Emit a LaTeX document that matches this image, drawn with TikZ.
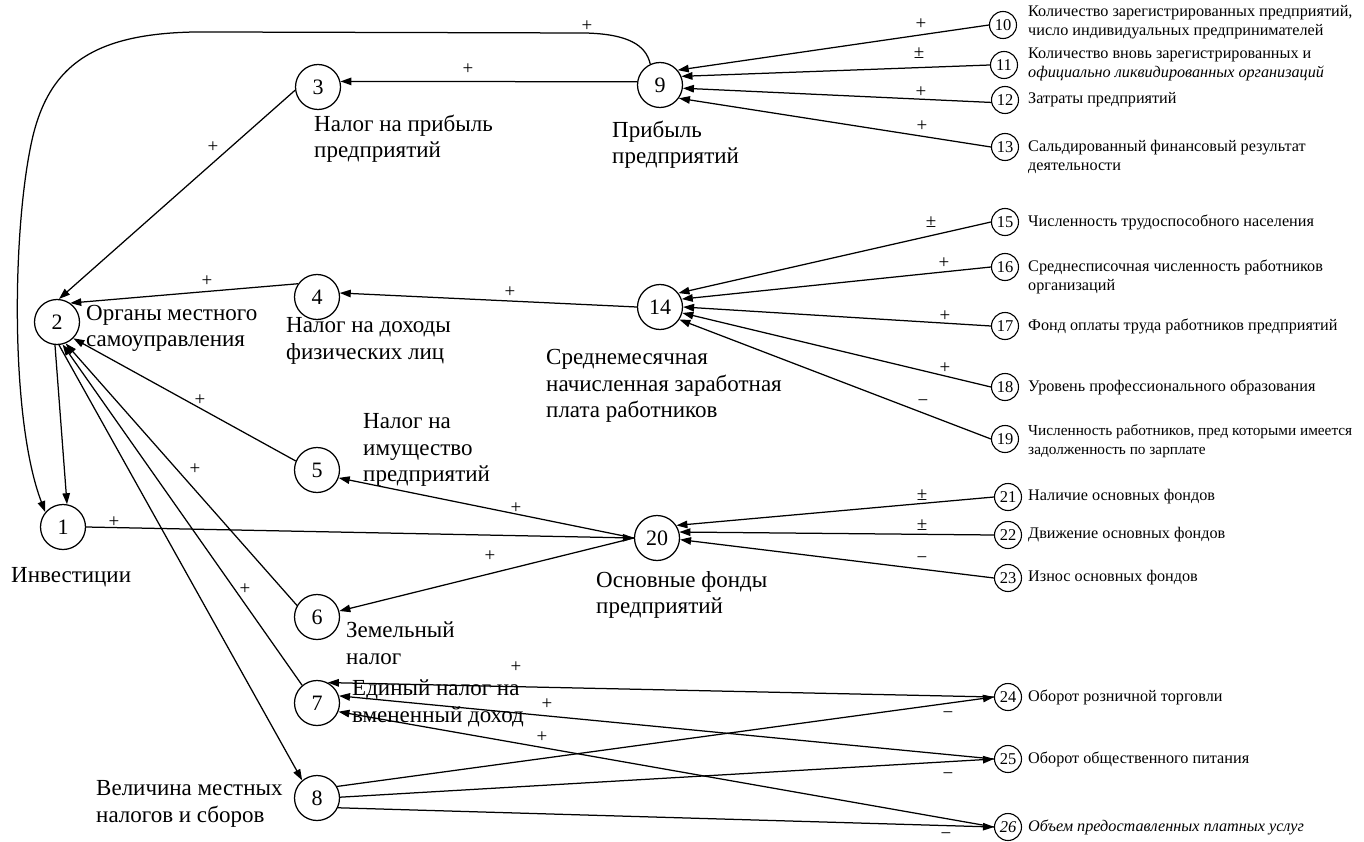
\documentclass[tikz,border=0pt]{standalone}
\usepackage{fontspec}
\setmainfont{Liberation Serif}
\usetikzlibrary{arrows.meta}
\begin{document}
\begin{tikzpicture}[x=1pt,y=-1pt,
  big/.style={circle,draw,line width=1.25pt,minimum size=45pt,inner sep=0pt,font=\fontsize{22}{22}\selectfont},
  sml/.style={circle,draw,line width=1.1pt,minimum size=27pt,inner sep=0pt,font=\fontsize{16.5}{16.5}\selectfont},
  lbl/.style={anchor=west,align=left,inner sep=0pt,font=\fontsize{23}{26.5}\selectfont},
  rlbl/.style={anchor=west,align=left,inner sep=0pt,font=\fontsize{16.2}{19}\selectfont},
  sgn/.style={inner sep=0pt,font=\fontsize{19}{19}\selectfont},
  arr/.style={line width=1.25pt,-{Triangle[length=11pt,width=7.5pt]}}]
\useasboundingbox (0,0) rectangle (1364,842);
% big nodes
\node[big] (n1) at (63,527) {1};
\node[big] (n2) at (57,322) {2};
\node[big] (n3) at (318,87) {3};
\node[big] (n4) at (317,297) {4};
\node[big] (n5) at (317,470) {5};
\node[big] (n6) at (317,617) {6};
\node[big] (n7) at (317,703) {7};
\node[big] (n8) at (317,798) {8};
\node[big] (n9) at (660,85) {9};
\node[big] (n14) at (660,307) {14};
\node[big] (n20) at (657,538) {20};
% small nodes
\node[sml] (n10) at (1003,25) {10};
\node[sml] (n11) at (1004,65) {11};
\node[sml] (n12) at (1005,100) {12};
\node[sml] (n13) at (1005,147) {13};
\node[sml] (n15) at (1005,222) {15};
\node[sml] (n16) at (1005,267) {16};
\node[sml] (n17) at (1005,326) {17};
\node[sml] (n18) at (1005,387) {18};
\node[sml] (n19) at (1005,439) {19};
\node[sml] (n21) at (1008,497) {21};
\node[sml] (n22) at (1008,535) {22};
\node[sml] (n23) at (1008,578) {23};
\node[sml] (n24) at (1008,697) {24};
\node[sml] (n25) at (1008,759) {25};
\node[sml] (n26) at (1008,827) {\itshape 26};
% big labels
\node[lbl] (l1) at (11,577) {Инвестиции};
\node[lbl] (l2) at (86,328.5) {Органы местного\\самоуправления};
\node[lbl] (l3) at (314,138.5) {Налог на прибыль\\предприятий};
\node[lbl] (l4) at (286,341) {Налог на доходы\\физических лиц};
\node[lbl] (l5) at (363,450) {Налог на\\имущество\\предприятий};
\node[lbl] (l6) at (346,643) {Земельный\\налог};
\node[lbl] (l7) at (352,703.5) {Единый налог на\\вмененный доход};
\node[lbl] (l8) at (96,804) {Величина местных\\налогов и сборов};
\node[lbl] (l9) at (612,144.5) {Прибыль\\предприятий};
\node[lbl] (l14) at (546,386) {Среднемесячная\\начисленная заработная\\плата работников};
\node[lbl] (l20) at (596,595) {Основные фонды\\предприятий};
% right labels
\node[rlbl] (t10) at (1028,22.5) {Количество зарегистрированных предприятий,\\число индивидуальных предпринимателей};
\node[rlbl] (t11) at (1028,64.5) {Количество вновь зарегистрированных и\\\itshape официально ликвидированных организаций};
\node[rlbl] (t12) at (1028,100) {Затраты предприятий};
\node[rlbl] (t13) at (1028,156.5) {Сальдированный финансовый результат\\деятельности};
\node[rlbl] (t15) at (1028,222) {Численность трудоспособного населения};
\node[rlbl] (t16) at (1028,277) {Среднесписочная численность работников\\организаций};
\node[rlbl] (t17) at (1028,326) {Фонд оплаты труда работников предприятий};
\node[rlbl] (t18) at (1028,387) {Уровень профессионального образования};
\node[rlbl,font=\fontsize{15.3}{19}\selectfont] (t19) at (1028,441) {Численность работников, пред которыми имеется\\задолженность по зарплате};
\node[rlbl] (t21) at (1028,497) {Наличие основных фондов};
\node[rlbl] (t22) at (1028,535) {Движение основных фондов};
\node[rlbl] (t23) at (1028,578) {Износ основных фондов};
\node[rlbl] (t24) at (1028,697) {Оборот розничной торговли};
\node[rlbl] (t25) at (1028,759) {Оборот общественного питания};
\node[rlbl] (t26) at (1028,827) {\itshape Объем предоставленных платных услуг};
% edges
\draw[arr] (n9.172) -- (n3.14);
\draw[arr] (n9.115) .. controls (646,45) and (628,34) .. (585,33) -- (215,32) .. controls (100,30) and (50,60) .. (32,140) .. controls (12,230) and (10,420) .. (n1.140);
\draw[arr] (n3.188) -- (n2.85);
\draw[arr] (n4.145) -- (n2.55);
\draw[arr] (n5.157) -- (n2.-45);
\draw[arr] (n6.150) -- (n2.-68);
\draw[arr] (n7.130) -- (n2.-76);
\draw[arr] (n2.-85) -- (n8.130);
\draw[arr] (n2.-95) -- (n1.80);
\draw[arr] (n14.west) -- (n4.10);
\draw[arr] (n1.east) -- (n20.west);
\draw[arr] (n20.west) -- (n5.-20);
\draw[arr] (n20.west) -- (n6.15);
\draw[arr] (n10.west) -- (n9.40);
\draw[arr] (n11.west) -- (n9.22);
\draw[arr] (n12.190) -- (n9.-8);
\draw[arr] (n13.west) -- (n9.-35);
\draw[arr] (n15.west) -- (n14.37);
\draw[arr] (n16.west) -- (n14.20);
\draw[arr] (n17.west) -- (n14.0);
\draw[arr] (n18.west) -- (n14.-15);
\draw[arr] (n19.west) -- (n14.-33);
\draw[arr] (n21.west) -- (n20.33);
\draw[arr] (n22.west) -- (n20.15);
\draw[arr] (n23.west) -- (n20.-4);
\draw[arr] (n24.west) -- (n7.62);
\draw[arr] (n25.west) -- (n7.18);
\draw[arr] (n26.west) -- (n7.-22);
\draw[arr] (n8.30) -- (n24.west);
\draw[arr] (n8.2) -- (n25.west);
\draw[arr] (n8.-25) -- (n26.west);
% signs
\node[sgn] (s93) at (468,69) {+};
\node[sgn] (s91) at (587,26) {+};
\node[sgn] (s32) at (213,147) {+};
\node[sgn] (s42) at (207,281) {+};
\node[sgn] (s52) at (200,400) {+};
\node[sgn] (s62) at (195,469) {+};
\node[sgn] (s72) at (245,589) {+};
\node[sgn] (s144) at (510,292) {+};
\node[sgn] (s120) at (114,522) {+};
\node[sgn] (s205) at (516,508) {+};
\node[sgn] (s206) at (490,556) {+};
\node[sgn] (s109) at (921,24) {+};
\node[sgn] (s119) at (919,53) {±};
\node[sgn] (s129) at (921,92) {+};
\node[sgn] (s139) at (922,126) {+};
\node[sgn] (s1514) at (931,222) {±};
\node[sgn] (s1614) at (944,263) {+};
\node[sgn] (s1714) at (945,316) {+};
\node[sgn] (s1814) at (945,368) {+};
\node[sgn] (s1914) at (923,403) {−};
\node[sgn] (s2120) at (922,495) {±};
\node[sgn] (s2220) at (922,525) {±};
\node[sgn] (s2320) at (922,560) {−};
\node[sgn] (s247) at (516,667) {+};
\node[sgn] (s257) at (547,704) {+};
\node[sgn] (s267) at (542,737) {+};
\node[sgn] (s824) at (948,715) {−};
\node[sgn] (s825) at (948,776) {−};
\node[sgn] (s826) at (946,836) {−};
\end{tikzpicture}
\end{document}
